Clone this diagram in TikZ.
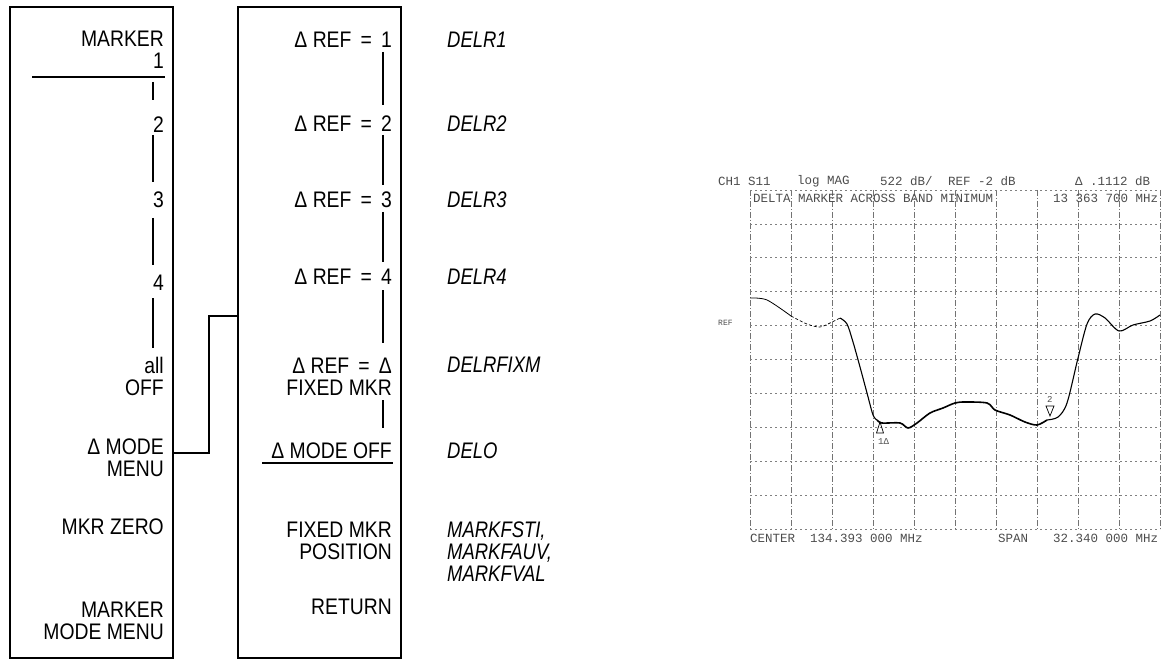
\documentclass[tikz,border=0pt]{standalone}
\usepackage{fontspec}
\setmainfont{Liberation Sans}
\newfontfamily\keyfont{Liberation Sans}[FakeStretch=0.86]
\newfontfamily\mnefont{Liberation Sans}[FakeStretch=0.82]
\newfontfamily\plotfont{Liberation Mono}
\tikzset{
  keyl/.style={font=\keyfont\fontsize{22.5}{22}\selectfont, anchor=east, inner sep=0pt, align=right},
  mnem/.style={font=\mnefont\itshape\fontsize{22.5}{22}\selectfont, anchor=west, inner sep=0pt, align=left},
  menubox/.style={draw, line width=1.8pt, minimum width=163pt, minimum height=651pt, inner sep=0pt},
  conn/.style={line width=1.3pt},
  chain/.style={line width=1.1pt},
  ptxt/.style={font=\plotfont\fontsize{12.5}{13}\selectfont, text=black!70, anchor=west, inner sep=0pt},
  gridv/.style={black!55, line width=0.7pt, dash pattern=on 6pt off 2pt on 1pt off 2pt},
  gridh/.style={black!50, line width=0.6pt, dash pattern=on 2pt off 3pt},
  trace/.style={line width=1.1pt, line join=round},
}
\begin{document}
\begin{tikzpicture}[x=1pt,y=-1pt]
\useasboundingbox (0,0) rectangle (1161,660);
% menu boxes
\node[menubox] (lbox) at (91.5,332.5) {};
\node[menubox] (mbox) at (319.5,332.5) {};
% left menu labels
\node[keyl] (lk1) at (164,50) {MARKER\\1};
\node[keyl] (lk2) at (164,125) {2};
\node[keyl] (lk3) at (164,200) {3};
\node[keyl] (lk4) at (164,283) {4};
\node[keyl] (lk5) at (164,376) {all\\OFF};
\node[keyl] (lk6) at (164,458) {Δ MODE\\MENU};
\node[keyl] (lk7) at (164,527) {MKR ZERO};
\node[keyl] (lk8) at (164,621) {MARKER\\MODE MENU};
% middle menu labels
\node[keyl] (mk1) at (392,40) {Δ REF \,=\, 1};
\node[keyl] (mk2) at (392,124) {Δ REF \,=\, 2};
\node[keyl] (mk3) at (392,200) {Δ REF \,=\, 3};
\node[keyl] (mk4) at (392,277) {Δ REF \,=\, 4};
\node[keyl] (mk5) at (392,377) {Δ REF \,=\, Δ\\FIXED MKR};
\node[keyl] (mk6) at (392,451) {Δ MODE OFF};
\node[keyl] (mk7) at (392,541) {FIXED MKR\\POSITION};
\node[keyl] (mk8) at (392,607) {RETURN};
% mnemonics
\node[mnem] (mn1) at (447,40) {DELR1};
\node[mnem] (mn2) at (447,124) {DELR2};
\node[mnem] (mn3) at (447,200) {DELR3};
\node[mnem] (mn4) at (447,277) {DELR4};
\node[mnem] (mn5) at (447,365) {DELRFIXM};
\node[mnem] (mn6) at (447,451) {DELO};
\node[mnem] (mn7) at (447,552) {MARKFSTI,\\MARKFAUV,\\MARKFVAL};
% underlines
\draw[chain] (32,77) -- (165,77);
\draw[chain] (262,463) -- (393,463);
% chain lines, left
\foreach \a/\b in {82/100,135/182,218/265,298/348}
  \draw[chain] (153,\a) -- (153,\b);
% chain lines, middle
\foreach \a/\b in {52/105,135/185,212/262,290/343,400/428}
  \draw[chain] (383,\a) -- (383,\b);
% connector
\coordinate (j1) at (209,453);
\coordinate (j2) at (209,316);
\draw[conn] (lbox.east |- j1) -- (j1) -- (j2) -- (mbox.west |- j2);
% ---------- plot ----------
\foreach \i in {0,...,10}
  \draw[gridv] ({750+41*\i},190) -- ({750+41*\i},529);
\foreach \j in {0,...,10}
  \draw[gridh] (750,{190+33.9*\j}) -- (1160,{190+33.9*\j});
% header and footer
\node[ptxt] (h1) at (718,181) {CH1 S11};
\node[ptxt] (h2) at (797,181) {log MAG};
\node[ptxt] (h3) at (880,181) {522 dB/};
\node[ptxt] (h4) at (948,181) {REF -2 dB};
\node[ptxt] (h5) at (1075,181) {Δ  .1112 dB};
\node[ptxt] (h6) at (753,198) {DELTA MARKER ACROSS BAND MINIMUM};
\node[ptxt] (h7) at (1053,198) {13 363 700 MHz};
\node[ptxt] (f1) at (750,538) {CENTER};
\node[ptxt] (f2) at (810,538) {134.393 000 MHz};
\node[ptxt] (f3) at (998,538) {SPAN};
\node[ptxt] (f4) at (1053,538) {32.340 000 MHz};
\node[ptxt, font=\plotfont\fontsize{8}{8}\selectfont] (rl) at (718,323) {REF};
% trace
\draw[line width=0.8pt] plot[smooth] coordinates {(750,298) (767,300) (791,316)};
\draw[line width=0.7pt, densely dashed] plot[smooth] coordinates {(791,316) (807,324) (820,327) (832,322) (840,318)};
\draw[trace] plot[smooth] coordinates {(840,318) (847,324) (853,342) (860,367) (867,393) (873,415) (877,420)};
\draw[trace, line width=1.6pt]
  plot[smooth] coordinates {(877,420) (882,423) (900,423) (908,428) (917,423) (930,413) (943,408) (955,403) (965,402) (987,403) (995,410) (1010,415) (1025,422) (1037,425) (1047,420)};
\draw[trace] plot[smooth] coordinates {(1047,420) (1058,417) (1067,403) (1078,358) (1087,324) (1095,314) (1105,318) (1119,331) (1133,325) (1150,321) (1160,315)};
% markers
\draw[line width=0.7pt] (880,422) -- (876.5,433) -- (883.5,433) -- cycle;
\node[ptxt, font=\plotfont\fontsize{9}{9}\selectfont] (m1) at (878,442) {1Δ};
\draw[line width=0.7pt] (1050,416) -- (1046,406) -- (1054,406) -- cycle;
\node[ptxt, font=\plotfont\fontsize{9}{9}\selectfont] (m2) at (1047,399) {2};
\end{tikzpicture}
\end{document}
